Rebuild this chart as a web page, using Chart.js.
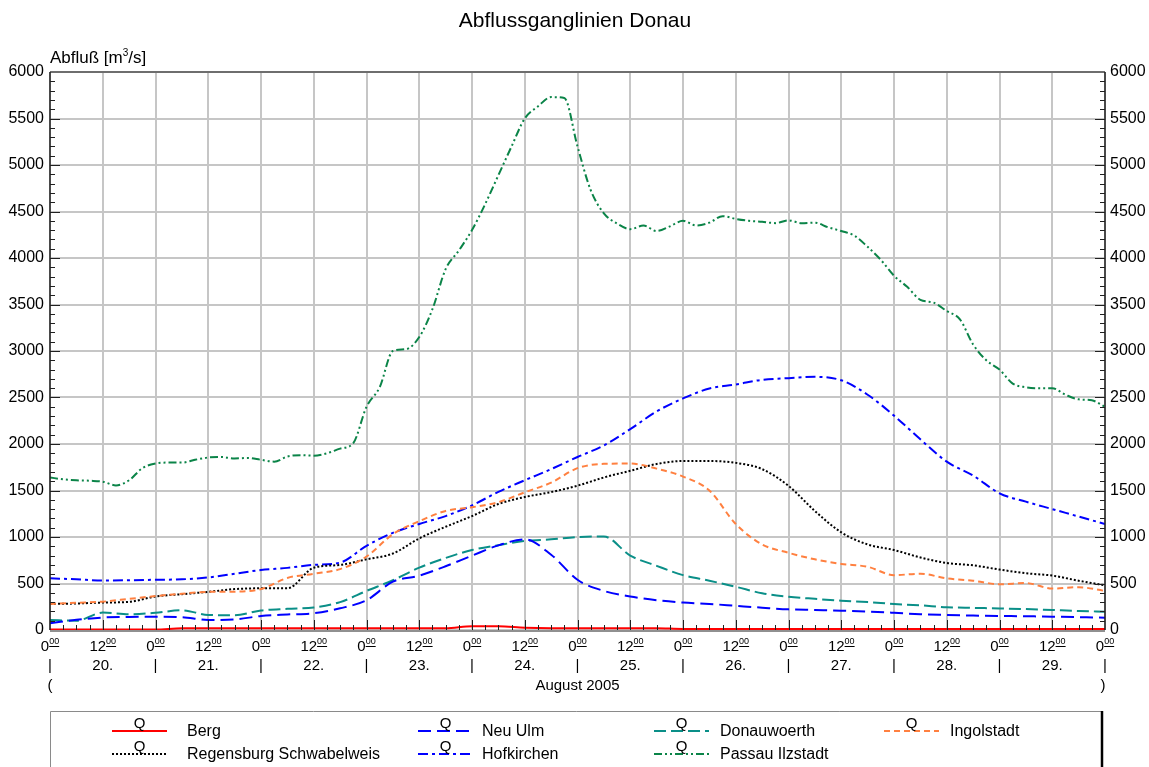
<!DOCTYPE html>
<html>
<head>
<meta charset="utf-8">
<script src="https://cdn.jsdelivr.net/npm/chart.js@4.4.1/dist/chart.umd.min.js"></script>
<style>
  body { margin: 0; background: #fff; }
  canvas { display: block; }
</style>
</head>
<body>
<canvas id="abfluss" width="1149" height="767"></canvas>
<script>
// hours since 20.08.2005 0:00
const hours6 = [0,6,12,18,24,30,36,42,48,54,60,66,72,78,84,90,96,102,108,114,120,126,132,138,144,150,156,162,168,174,180,186,192,198,204,210,216,222,228,234,240];
const hours3 = [0,3,6,9,12,15,18,21,24,27,30,33,36,39,42,45,48,51,54,57,60,63,66,69,72,75,78,81,84,87,90,93,96,99,102,105,108,111,114,117,120,123,126,129,132,135,138,141,144,147,150,153,156,159,162,165,168,171,174,177,180,183,186,189,192,195,198,201,204,207,210,213,216,219,222,225,228,231,234,237,240];

const berg = [5,5,5,5,5,18,18,18,18,18,18,18,18,18,18,18,40,40,25,20,20,20,20,20,12,12,12,12,12,12,12,12,12,12,12,12,12,12,12,12,12];
const neuUlm = [72,110,134,140,143,138,108,114,150,167,180,233,320,520,585,685,800,910,975,810,540,420,360,320,295,280,260,240,222,215,208,198,185,170,162,155,151,148,143,138,133];
const donauwoerth = [108,100,187,170,185,212,162,158,210,228,242,300,420,535,670,775,860,912,958,975,1000,1005,800,690,590,530,465,395,358,335,315,300,280,265,245,238,232,225,215,205,197];
const ingolstadt = [280,292,305,335,365,390,410,412,440,560,605,655,790,1030,1170,1280,1320,1375,1480,1585,1740,1787,1790,1735,1650,1500,1140,920,830,760,710,680,590,605,555,530,492,505,445,460,420];
const regensburg = [280,285,295,303,360,385,410,440,448,448,670,700,760,822,985,1110,1225,1355,1430,1483,1552,1640,1712,1785,1817,1817,1797,1730,1550,1280,1050,920,860,780,720,695,650,610,585,530,480];
const hofkirchen = [556,545,532,535,540,545,565,605,645,668,700,725,905,1045,1140,1225,1340,1485,1610,1730,1860,1985,2160,2350,2490,2597,2640,2690,2708,2722,2685,2530,2305,2050,1810,1660,1470,1380,1300,1220,1140];
const passau = [1640,1620,1610,1605,1595,1555,1610,1740,1790,1800,1800,1830,1855,1860,1845,1850,1830,1810,1865,1880,1875,1900,1950,2010,2400,2610,3000,3020,3150,3450,3880,4080,4300,4580,4890,5200,5500,5630,5730,5720,5200,4730,4480,4370,4310,4350,4290,4340,4400,4350,4380,4450,4420,4400,4390,4375,4405,4375,4380,4330,4290,4240,4120,3980,3810,3690,3550,3520,3430,3340,3070,2900,2800,2650,2610,2600,2600,2530,2480,2470,2400];

const yTicks = [0,500,1000,1500,2000,2500,3000,3500,4000,4500,5000,5500,6000];
const hourTickPos = [0,12,24,36,48,60,72,84,96,108,120,132,144,156,168,180,192,204,216,228,240];
const hourTickLabels = ['0','12','0','12','0','12','0','12','0','12','0','12','0','12','0','12','0','12','0','12','0'];
const dayPos = [12,36,60,84,108,132,156,180,204,228];
const dayLabels = ['20.','21.','22.','23.','24.','25.','26.','27.','28.','29.'];
const dayBounds = [0,24,48,72,96,120,144,168,192,216,240];

const FONT = '"Liberation Sans", Arial, sans-serif';

const series = [
    { name: 'Berg', x: hours6, y: berg, color: '#ff0000', dash: [] },
    { name: 'Neu Ulm', x: hours6, y: neuUlm, color: '#0000ff', dash: [13, 6] },
    { name: 'Donauwoerth', x: hours6, y: donauwoerth, color: '#0a8f88', dash: [12, 5] },
    { name: 'Ingolstadt', x: hours6, y: ingolstadt, color: '#ff8040', dash: [6, 4] },
    { name: 'Regensburg Schwabelweis', x: hours6, y: regensburg, color: '#000000', dash: [2, 2] },
    { name: 'Hofkirchen', x: hours6, y: hofkirchen, color: '#0000ff', dash: [10, 4, 3, 4] },
    { name: 'Passau Ilzstadt', x: hours3, y: passau, color: '#0b8448', dash: [8, 3, 2, 3, 2, 3] },
];

// legend grid: sample line start, text start, rows
const legendLineX = [112, 418, 654, 884];
const legendTextX = [187, 482, 720, 950];
const legendRows = [731, 754];
const legendOrder = [
    ['Berg', 'Neu Ulm', 'Donauwoerth', 'Ingolstadt'],
    ['Regensburg Schwabelweis', 'Hofkirchen', 'Passau Ilzstadt'],
];

function drawDecor(chart) {
    const ctx = chart.ctx;
    const a = chart.chartArea;
    const xs = chart.scales.x;
    const ys = chart.scales.y;
    ctx.save();

    // frame
    ctx.strokeStyle = '#505050';
    ctx.lineWidth = 1.5;
    ctx.beginPath();
    ctx.moveTo(a.left, a.top); ctx.lineTo(a.right, a.top);
    ctx.stroke();
    ctx.strokeStyle = '#202020';
    ctx.beginPath();
    ctx.moveTo(a.left, a.top); ctx.lineTo(a.left, a.bottom);
    ctx.moveTo(a.right, a.top); ctx.lineTo(a.right, a.bottom);
    ctx.stroke();
    ctx.strokeStyle = '#909090';
    ctx.lineWidth = 2;
    ctx.beginPath();
    ctx.moveTo(a.left, a.bottom + 1); ctx.lineTo(a.right, a.bottom + 1);
    ctx.stroke();

    // y ticks
    ctx.strokeStyle = '#202020';
    ctx.lineWidth = 1;
    ctx.beginPath();
    for (let v = 100; v < 6000; v += 100) {
        const py = Math.round(ys.getPixelForValue(v)) + 0.5;
        const len = v % 500 === 0 ? 10 : 5;
        ctx.moveTo(a.left, py); ctx.lineTo(a.left + len, py);
        ctx.moveTo(a.right, py); ctx.lineTo(a.right - len, py);
    }
    // x ticks
    for (let h = 3; h < 240; h += 3) {
        const px = Math.round(xs.getPixelForValue(h)) + 0.5;
        const len = h % 12 === 0 ? 10 : 5;
        ctx.moveTo(px, a.bottom); ctx.lineTo(px, a.bottom - len);
    }
    ctx.stroke();

    // y labels
    ctx.fillStyle = '#000';
    ctx.font = '16px ' + FONT;
    ctx.textBaseline = 'middle';
    yTicks.forEach(v => {
        const py = ys.getPixelForValue(v);
        ctx.textAlign = 'right';
        ctx.fillText(String(v), a.left - 6, py);
        ctx.textAlign = 'left';
        ctx.fillText(String(v), a.right + 5, py);
    });

    // y title
    ctx.textAlign = 'left';
    ctx.textBaseline = 'alphabetic';
    ctx.font = '17px ' + FONT;
    let tx = 50;
    const ty = 63;
    ctx.fillText('Abfluß [m', tx, ty);
    tx += ctx.measureText('Abfluß [m').width;
    ctx.font = '10px ' + FONT;
    ctx.fillText('3', tx, ty - 7);
    tx += ctx.measureText('3').width;
    ctx.font = '17px ' + FONT;
    ctx.fillText('/s]', tx, ty);

    // title
    ctx.font = '21px ' + FONT;
    ctx.textAlign = 'center';
    ctx.fillText('Abflussganglinien Donau', 575, 27);

    // hour labels with underlined superscript 00
    hourTickPos.forEach((h, i) => {
        const px = xs.getPixelForValue(h);
        const main = hourTickLabels[i];
        ctx.font = '15px ' + FONT;
        const w1 = ctx.measureText(main).width;
        ctx.font = '9px ' + FONT;
        const w2 = ctx.measureText('00').width;
        const x0 = px - (w1 + w2) / 2;
        ctx.textAlign = 'left';
        ctx.font = '15px ' + FONT;
        ctx.fillText(main, x0, 651);
        ctx.font = '9px ' + FONT;
        ctx.fillText('00', x0 + w1, 644);
        ctx.fillRect(x0 + w1, 646, w2, 1);
    });

    // day row
    ctx.font = '15px ' + FONT;
    ctx.textAlign = 'center';
    dayBounds.forEach(h => {
        ctx.fillText('|', xs.getPixelForValue(h), 670);
    });
    dayPos.forEach((h, i) => {
        ctx.fillText(dayLabels[i], xs.getPixelForValue(h), 670);
    });
    ctx.fillText('(', xs.getPixelForValue(0), 690);
    ctx.fillText(')', xs.getPixelForValue(240) - 2, 690);
    ctx.fillText('August 2005', xs.getPixelForValue(120), 690);

    // legend box
    ctx.strokeStyle = '#8a8a8a';
    ctx.lineWidth = 1;
    ctx.beginPath();
    ctx.moveTo(50.5, 767); ctx.lineTo(50.5, 711.5); ctx.lineTo(1102, 711.5);
    ctx.stroke();
    ctx.strokeStyle = '#000';
    ctx.lineWidth = 2.5;
    ctx.beginPath();
    ctx.moveTo(1102, 711); ctx.lineTo(1102, 767);
    ctx.stroke();

    legendOrder.forEach((row, r) => {
        row.forEach((name, c) => {
            const s = series.find(d => d.name === name);
            const x1 = legendLineX[c];
            const x2 = x1 + 55;
            const y = legendRows[r];
            ctx.strokeStyle = s.color;
            ctx.lineWidth = 2;
            ctx.setLineDash(s.dash);
            ctx.beginPath();
            ctx.moveTo(x1, y); ctx.lineTo(x2, y);
            ctx.stroke();
            ctx.setLineDash([]);
            ctx.fillStyle = '#000';
            ctx.font = '15px ' + FONT;
            ctx.textAlign = 'center';
            ctx.textBaseline = 'alphabetic';
            ctx.fillText('Q', (x1 + x2) / 2, y - 3);
            ctx.font = '16px ' + FONT;
            ctx.textAlign = 'left';
            ctx.textBaseline = 'middle';
            ctx.fillText(name, legendTextX[c], y + 1);
        });
    });

    ctx.restore();
}

new Chart(document.getElementById('abfluss'), {
    type: 'line',
    data: {
        datasets: series.map(s => ({
            label: s.name,
            data: s.x.map((h, i) => ({ x: h, y: s.y[i] })),
            borderColor: s.color,
            borderWidth: 2,
            borderDash: s.dash,
            pointRadius: 0,
            cubicInterpolationMode: 'monotone',
            fill: false,
        })),
    },
    options: {
        responsive: false,
        animation: false,
        devicePixelRatio: 1,
        layout: { padding: { left: 50, right: 44, top: 72, bottom: 137 } },
        plugins: {
            legend: { display: false },
            tooltip: { enabled: false },
        },
        scales: {
            x: {
                type: 'linear',
                min: 0,
                max: 240,
                ticks: { display: false, stepSize: 12 },
                grid: { color: '#c6c6c6', lineWidth: 2, drawTicks: false },
                border: { display: false },
                afterFit: (scale) => { scale.height = 0; },
            },
            y: {
                min: 0,
                max: 6000,
                ticks: { display: false, stepSize: 500 },
                grid: { color: '#c6c6c6', lineWidth: 2, drawTicks: false },
                border: { display: false },
                afterFit: (scale) => { scale.width = 0; },
            },
        },
    },
    plugins: [{ id: 'decor', afterDraw: drawDecor }],
});
</script>
</body>
</html>
